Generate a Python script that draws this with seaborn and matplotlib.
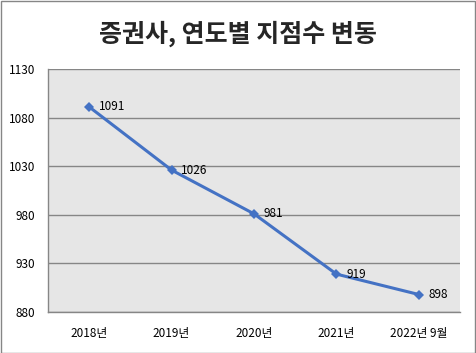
#!/usr/bin/env python3

# plot.py
#
# Securities firms, branch count by year.
import matplotlib.pyplot as plt
from matplotlib.patches import Rectangle
import pandas as pd
import seaborn as sns


YEARS = ['2018년', '2019년', '2020년', '2021년', '2022년 9월']
BRANCHES = [1091, 1026, 981, 919, 898]
Y_TICKS = [880, 930, 980, 1030, 1080, 1130]


def make_plot(output):
    data = pd.DataFrame({'year': YEARS, 'branches': BRANCHES})

    sns.set_theme(style='white')
    plt.rcParams['font.family'] = ['Noto Sans CJK KR', 'DejaVu Sans']

    fig = plt.figure(figsize=(4.76, 3.53), dpi=100)
    ax = fig.add_axes([48 / 476, 41 / 353, 412 / 476, 243 / 353])
    ax.set_facecolor('#e6e6e6')

    sns.lineplot(data=data, x='year', y='branches', ax=ax, color='#4472c4',
                 linewidth=2.2, marker='D', markersize=5, markeredgewidth=0)

    # Data labels to the right of each point
    for i, v in enumerate(BRANCHES):
        ax.annotate(str(v), (i, v), xytext=(7, 0), textcoords='offset points',
                    ha='left', va='center', fontsize=8.5, color='black')

    ax.set_xlim(-0.5, len(YEARS) - 0.5)
    ax.set_ylim(880, 1130)
    ax.set_yticks(Y_TICKS)
    ax.yaxis.grid(True, color='#868686', linewidth=1)
    ax.set_axisbelow(True)
    ax.tick_params(axis='both', length=0, labelsize=8.5, colors='black')
    ax.tick_params(axis='y', pad=9)
    ax.tick_params(axis='x', pad=11)
    ax.set_xlabel('')
    ax.set_ylabel('')

    for side in ['top', 'right']:
        ax.spines[side].set_visible(False)
    for side in ['left', 'bottom']:
        ax.spines[side].set_color('#868686')
        ax.spines[side].set_linewidth(1)

    fig.text(0.5, 0.905, '증권사, 연도별 지점수 변동', ha='center', va='center',
             fontsize=18, fontweight='heavy')

    # Chart frame
    fig.patches.append(Rectangle((0.5 / 476, 0.5 / 353), 474.5 / 476, 351.5 / 353,
                                 transform=fig.transFigure, fill=False,
                                 edgecolor='#868686', linewidth=1))

    fig.savefig(output, dpi=100)
    plt.close()


if __name__ == '__main__':
    make_plot('out.png')
